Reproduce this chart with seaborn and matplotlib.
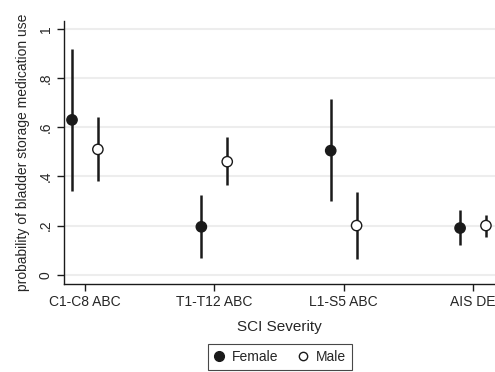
import pandas as pd
import matplotlib
matplotlib.use("Agg")
import matplotlib.pyplot as plt
import seaborn as sns
from matplotlib.lines import Line2D

# -------------------------------
# Data
# -------------------------------

categories = ["C1-C8 ABC", "T1-T12 ABC", "L1-S5 ABC", "AIS DE"]

female_est = [0.63, 0.195, 0.505, 0.19]
female_lo = [0.34, 0.07, 0.30, 0.12]
female_hi = [0.92, 0.325, 0.715, 0.265]

male_est = [0.51, 0.46, 0.20, 0.20]
male_lo = [0.38, 0.365, 0.065, 0.155]
male_hi = [0.64, 0.56, 0.335, 0.245]

yticks = [0, 0.2, 0.4, 0.6, 0.8, 1]
ytick_labels = ["0", ".2", ".4", ".6", ".8", "1"]

rows = []
for i, cat in enumerate(categories):
    rows.append(["Female", i - 0.1, female_est[i], female_lo[i], female_hi[i]])
    rows.append(["Male", i + 0.1, male_est[i], male_lo[i], male_hi[i]])
df = pd.DataFrame(rows, columns=["sex", "pos", "est", "lo", "hi"])

sns.set_style("white")
plt.rcParams["font.family"] = ["Liberation Sans", "DejaVu Sans"]

dark = "#1a1a1a"

fig = plt.figure(figsize=(4.95, 3.72), dpi=100)
ax = fig.add_axes([0.129, 0.237, 0.871, 0.707])

# grid
for y in yticks:
    ax.axhline(y, color="#ededed", lw=1.5, zorder=0)

# confidence intervals
ax.vlines(df["pos"], df["lo"], df["hi"], color=dark, lw=1.8, zorder=2)

# point estimates
sns.scatterplot(
    data=df,
    x="pos",
    y="est",
    hue="sex",
    palette={"Female": dark, "Male": "white"},
    edgecolor=dark,
    linewidth=1.0,
    s=55,
    zorder=3,
    legend=False,
    ax=ax
)

ax.set_xlim(-0.163, 3.17)
ax.set_ylim(-0.037, 1.033)
ax.set_xticks(range(len(categories)))
ax.set_xticklabels(categories, fontsize=10)
ax.set_yticks(yticks)
ax.set_yticklabels(ytick_labels, fontsize=10, rotation=90, va="center")
ax.tick_params(axis="both", direction="out", length=5, width=1, color=dark, pad=3, left=True, bottom=True)

for side in ["top", "right"]:
    ax.spines[side].set_visible(False)
for side in ["left", "bottom"]:
    ax.spines[side].set_color(dark)
    ax.spines[side].set_linewidth(1.0)

ax.set_xlabel("SCI Severity", fontsize=11, labelpad=8)
ax.set_ylabel("probability of bladder storage medication use", fontsize=10, labelpad=6)

handles = [
    Line2D([], [], marker="o", ls="", markerfacecolor=dark, markeredgecolor=dark, markersize=7),
    Line2D([], [], marker="o", ls="", markerfacecolor="white", markeredgecolor=dark, markersize=6),
]
leg = fig.legend(
    handles, ["Female", "Male"],
    loc="center", bbox_to_anchor=(280 / 495, 1 - 357 / 372),
    ncol=2, frameon=True, fancybox=False, fontsize=10,
    handletextpad=0.5, columnspacing=1.4, borderpad=0.4, handlelength=0.8
)
leg.get_frame().set_edgecolor(dark)
leg.get_frame().set_linewidth(0.8)

fig.savefig("out.png", dpi=100)
